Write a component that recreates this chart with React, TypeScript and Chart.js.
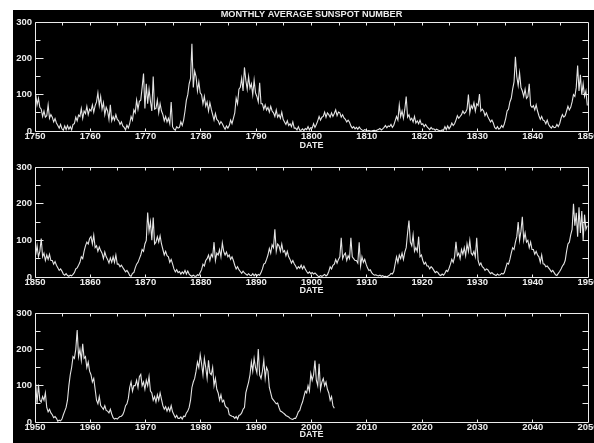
import React, { useEffect, useRef } from 'react';
import { Chart, registerables } from 'chart.js';

Chart.register(...registerables);

// ---------------- data (quarterly readings of the monthly sunspot number) ----------------
const TITLE = 'MONTHLY AVERAGE SUNSPOT NUMBER';
const X_TITLE = 'DATE';
const PANEL_STARTS = [1750, 1850, 1950];
const PANEL_ENDS = [1850, 1950, 2050];
const VALUES_PER_YEAR = 4;
const Y_MIN = 0;
const Y_MAX = 300;
const Y_LABEL_STEP = 100;
const Y_MINOR_STEP = 50;
const X_LABEL_STEP = 10;
const X_MINOR_STEP = 5;

const SUNSPOTS_1750_1849 = [
  100, 72, 90, 65, 60, 40, 55, 38, 42, 72, 35, 45, 38, 25, 34, 22, 15, 8, 18, 6,
  2, 14, 4, 15, 5, 12, 3, 18, 20, 38, 28, 44, 40, 62, 35, 55, 48, 68, 45, 60,
  55, 72, 52, 70, 80, 105, 70, 95, 60, 78, 45, 65, 55, 32, 72, 28, 40, 30, 45, 32,
  28, 18, 25, 14, 10, 3, 16, 8, 20, 40, 30, 58, 50, 85, 60, 82, 85, 120, 158, 62,
  130, 75, 115, 82, 55, 150, 60, 62, 85, 50, 75, 55, 45, 28, 40, 25, 35, 20, 80, 12,
  5, 2, 12, 8, 10, 25, 15, 30, 55, 85, 100, 130, 145, 240, 120, 165, 150, 110, 135, 105,
  100, 75, 95, 68, 80, 55, 78, 60, 45, 30, 48, 32, 28, 18, 26, 20, 12, 5, 14, 8,
  15, 30, 20, 35, 50, 90, 75, 115, 120, 145, 110, 175, 140, 115, 150, 118, 130, 100, 140, 105,
  95, 80, 133, 75, 75, 60, 72, 58, 65, 52, 68, 55, 50, 40, 58, 38, 45, 35, 52, 32,
  25, 18, 28, 15, 20, 12, 25, 8, 8, 3, 12, 2, 2, 6, 1, 7, 4, 12, 3, 9,
  8, 20, 10, 18, 28, 40, 30, 38, 40, 52, 38, 50, 45, 38, 50, 40, 48, 58, 42, 52,
  50, 38, 45, 36, 32, 25, 30, 24, 14, 8, 12, 6, 10, 5, 11, 6, 3, 1, 4, 2,
  0, 1, 0, 0, 1, 2, 0, 3, 4, 7, 3, 6, 10, 15, 9, 14, 12, 18, 10, 16,
  28, 40, 30, 72, 40, 55, 35, 60, 95, 38, 45, 30, 35, 25, 40, 22, 28, 20, 30, 18,
  20, 12, 18, 12, 8, 4, 10, 5, 6, 2, 5, 3, 1, 0, 3, 2, 12, 4, 14, 6,
  12, 22, 15, 20, 30, 42, 35, 40, 45, 55, 48, 52, 60, 100, 50, 70, 62, 78, 55, 75,
  70, 102, 55, 60, 55, 42, 50, 40, 32, 25, 30, 22, 10, 6, 12, 5, 8, 15, 10, 20,
  35, 55, 60, 80, 90, 115, 135, 204, 150, 125, 160, 120, 110, 95, 115, 90, 95, 130, 70, 65,
  70, 58, 72, 55, 42, 32, 40, 30, 28, 20, 30, 18, 12, 8, 14, 9, 10, 18, 12, 20,
  35, 45, 38, 42, 55, 68, 58, 65, 80, 100, 95, 120, 180, 110, 155, 100, 130, 95, 110, 70,
];

const SUNSPOTS_1850_1949 = [
  60, 85, 55, 70, 105, 55, 65, 45, 60, 48, 62, 45, 45, 35, 42, 32, 25, 18, 22, 16,
  8, 5, 9, 4, 2, 5, 3, 7, 12, 22, 25, 32, 40, 55, 50, 70, 85, 95, 90, 105,
  110, 90, 114, 80, 85, 70, 82, 72, 65, 50, 68, 55, 48, 38, 52, 40, 55, 40, 60, 35,
  35, 28, 32, 26, 20, 14, 18, 12, 4, 2, 10, 12, 25, 35, 40, 50, 60, 75, 70, 90,
  100, 176, 125, 150, 100, 162, 90, 95, 110, 95, 112, 90, 75, 60, 70, 58, 55, 40, 48, 36,
  22, 14, 20, 12, 15, 8, 14, 9, 18, 8, 16, 8, 4, 2, 5, 2, 2, 6, 4, 12,
  20, 35, 30, 45, 50, 60, 45, 62, 55, 95, 45, 65, 60, 75, 55, 93, 70, 60, 68, 55,
  60, 48, 55, 45, 32, 22, 28, 20, 15, 10, 16, 11, 8, 5, 9, 5, 4, 9, 3, 8,
  3, 7, 5, 12, 22, 35, 38, 48, 60, 78, 65, 88, 80, 130, 70, 90, 85, 70, 90, 68,
  72, 58, 70, 55, 48, 38, 45, 36, 30, 22, 28, 24, 32, 22, 30, 22, 15, 10, 14, 9,
  12, 8, 11, 7, 3, 1, 4, 2, 4, 7, 3, 6, 15, 28, 22, 32, 35, 48, 38, 48,
  55, 107, 50, 60, 65, 45, 58, 50, 107, 55, 50, 45, 45, 38, 95, 30, 55, 40, 48, 35,
  25, 18, 20, 12, 8, 5, 6, 4, 3, 5, 2, 4, 1, 2, 0, 3, 5, 10, 8, 15,
  35, 55, 40, 60, 50, 65, 48, 68, 80, 120, 154, 95, 85, 115, 70, 80, 70, 110, 55, 60,
  45, 35, 40, 30, 30, 22, 28, 24, 18, 12, 15, 12, 6, 4, 8, 5, 10, 18, 15, 24,
  35, 48, 40, 55, 96, 58, 65, 50, 75, 62, 80, 58, 90, 70, 100, 65, 60, 70, 55, 107,
  45, 32, 38, 28, 25, 18, 22, 20, 14, 9, 12, 8, 6, 4, 8, 5, 6, 10, 8, 12,
  25, 38, 35, 48, 65, 80, 75, 95, 110, 150, 100, 125, 164, 100, 120, 95, 100, 80, 95, 75,
  75, 62, 70, 60, 55, 40, 60, 36, 35, 28, 30, 25, 20, 14, 18, 12, 6, 4, 10, 15,
  22, 30, 35, 45, 70, 90, 95, 115, 130, 200, 140, 175, 110, 190, 120, 180, 100, 170, 130, 140,
];

const SUNSPOTS_1950_2004 = [
  105, 50, 103, 60, 55, 70, 60, 80, 40, 28, 35, 25, 20, 12, 15, 10, 2, 5, 3, 8,
  20, 30, 40, 60, 100, 130, 150, 180, 175, 200, 253, 180, 200, 170, 215, 175, 180, 150, 165, 140,
  130, 110, 120, 90, 60, 50, 70, 45, 40, 35, 45, 32, 30, 25, 35, 22, 12, 8, 10, 8,
  12, 15, 16, 20, 30, 45, 50, 65, 95, 110, 85, 100, 100, 115, 95, 125, 131, 100, 110, 90,
  115, 100, 125, 85, 80, 60, 70, 55, 75, 60, 80, 62, 45, 35, 42, 30, 40, 30, 45, 28,
  20, 12, 18, 10, 10, 14, 8, 16, 15, 25, 30, 40, 60, 95, 110, 120, 140, 165, 150, 185,
  160, 130, 175, 150, 120, 170, 135, 130, 150, 100, 120, 90, 80, 60, 75, 55, 60, 45, 40, 38,
  20, 18, 16, 15, 10, 15, 8, 18, 20, 25, 35, 40, 80, 95, 110, 130, 165, 140, 175, 150,
  135, 201, 130, 120, 140, 170, 120, 150, 140, 95, 80, 65, 60, 55, 50, 52, 40, 30, 28, 25,
  22, 18, 16, 14, 10, 8, 7, 10, 10, 18, 28, 32, 45, 55, 70, 85, 80, 100, 85, 133,
  115, 130, 169, 115, 100, 160, 90, 110, 120, 100, 110, 90, 80, 60, 70, 45,
  38,
];

const PANEL_SERIES = [SUNSPOTS_1750_1849, SUNSPOTS_1850_1949, SUNSPOTS_1950_2004];

// ---------------- style / layout ----------------
const FG = '#ececec';
const LINE = '#e4e4e4';
const FONT_FAMILY = "'Liberation Sans', Arial, sans-serif";
const CANVAS_W = 581;
const PANELS_LAYOUT = [
  { top: 0, height: 146, padTop: 0, axisH: 25, titlePadB: 6, withTitle: true },
  { top: 146, height: 145, padTop: 11, axisH: 24, titlePadB: 6, withTitle: false },
  { top: 291, height: 142, padTop: 12, axisH: 21, titlePadB: 3.5, withTitle: false },
];

const framePlugin = {
  id: 'frameTicks',
  afterDraw(chart: any) {
    const { ctx, chartArea, scales } = chart;
    const { left, right, top, bottom } = chartArea;
    const x = scales.x;
    const y = scales.y;
    const px = (v: number) => Math.floor(v) + 0.5;
    ctx.save();
    ctx.strokeStyle = FG;
    ctx.lineWidth = 1;
    ctx.beginPath();
    ctx.moveTo(px(left), px(top));
    ctx.lineTo(px(right), px(top));
    ctx.lineTo(px(right), px(bottom));
    ctx.lineTo(px(left), px(bottom));
    ctx.closePath();
    for (let v = Y_MIN; v <= Y_MAX; v += Y_MINOR_STEP) {
      const yy = px(y.getPixelForValue(v));
      const len = v % Y_LABEL_STEP === 0 ? 8 : 5;
      ctx.moveTo(px(left), yy);
      ctx.lineTo(px(left) + len, yy);
      if (v > Y_MIN && v < Y_MAX) {
        ctx.moveTo(px(right), yy);
        ctx.lineTo(px(right) - 6, yy);
      }
    }
    for (let t = x.min + X_MINOR_STEP; t < x.max; t += X_MINOR_STEP) {
      const xx = px(x.getPixelForValue(t));
      ctx.moveTo(xx, px(top));
      ctx.lineTo(xx, px(top) + 3);
      if ((t - x.min) % X_LABEL_STEP === 0) {
        ctx.moveTo(xx, px(bottom));
        ctx.lineTo(xx, px(bottom) - 3);
      }
    }
    ctx.stroke();
    ctx.restore();
  },
};

function Panel({ index }: { index: number }) {
  const ref = useRef<HTMLCanvasElement | null>(null);
  const lay = PANELS_LAYOUT[index];
  useEffect(() => {
    if (!ref.current) return;
    const start = PANEL_STARTS[index];
    const values = PANEL_SERIES[index];
    const points = values.map((v, i) => ({ x: start + (i + 0.5) / VALUES_PER_YEAR, y: v }));
    const tickFont = { family: FONT_FAMILY, size: 9.5, weight: 'bold' as const, lineHeight: 1.2 };
    const chart = new Chart(ref.current, {
      type: 'line',
      data: {
        datasets: [
          {
            data: points,
            borderColor: LINE,
            borderWidth: 1.1,
            pointRadius: 0,
            tension: 0,
            fill: false,
          },
        ],
      },
      options: {
        animation: false,
        responsive: false,
        maintainAspectRatio: false,
        events: [],
        layout: { padding: { top: lay.padTop, right: 6, left: 0, bottom: 0 } },
        plugins: {
          legend: { display: false },
          tooltip: { enabled: false },
          title: {
            display: lay.withTitle,
            text: TITLE,
            color: FG,
            fullSize: false,
            font: { family: FONT_FAMILY, size: 9.2, weight: 'bold', lineHeight: 1 },
            padding: { top: 0, bottom: 2.8 },
          },
        },
        scales: {
          x: {
            type: 'linear',
            min: PANEL_STARTS[index],
            max: PANEL_ENDS[index],
            afterFit: (s: any) => {
              s.height = lay.axisH;
              s.paddingLeft = 0;
              s.paddingRight = 0;
            },
            grid: { display: false, drawTicks: false },
            border: { display: false },
            ticks: {
              stepSize: X_LABEL_STEP,
              color: FG,
              font: tickFont,
              padding: 0,
              autoSkip: false,
              maxRotation: 0,
              callback: (v: any) => String(v),
            },
            title: {
              display: true,
              text: X_TITLE,
              color: FG,
              font: { family: FONT_FAMILY, size: 9, weight: 'bold', lineHeight: 1 },
              padding: { top: 0, bottom: lay.titlePadB },
            },
          },
          y: {
            min: Y_MIN,
            max: Y_MAX,
            afterFit: (s: any) => {
              s.width = 22;
              s.paddingTop = 0;
              s.paddingBottom = 0;
            },
            grid: { display: false, drawTicks: false },
            border: { display: false },
            ticks: {
              stepSize: Y_LABEL_STEP,
              color: FG,
              font: tickFont,
              padding: 3,
              callback: (v: any) => String(v),
            },
          },
        },
      } as any,
      plugins: [framePlugin],
    });
    return () => chart.destroy();
  }, [index]);
  return (
    <canvas
      ref={ref}
      width={CANVAS_W}
      height={lay.height}
      style={{ position: 'absolute', left: 0, top: lay.top, width: CANVAS_W, height: lay.height, display: 'block' }}
    />
  );
}

export default function App() {
  return (
    <div
      style={{
        position: 'absolute',
        left: 13,
        top: 10,
        width: CANVAS_W,
        height: 433,
        background: '#000',
        overflow: 'hidden',
      }}
    >
      {PANEL_STARTS.map((_, i) => (
        <Panel key={i} index={i} />
      ))}
    </div>
  );
}
